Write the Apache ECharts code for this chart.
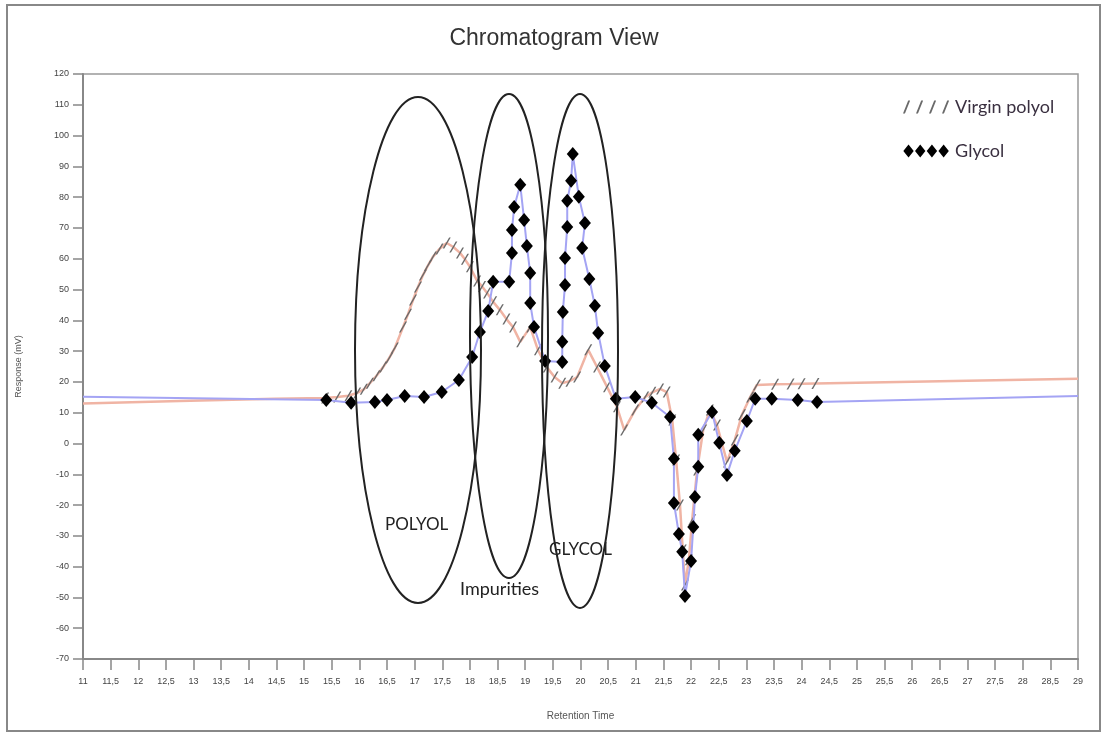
<!DOCTYPE html>
<html>
<head>
    <meta charset="UTF-8">
    <title>Chromatogram View</title>
    <script src="https://cdn.jsdelivr.net/npm/echarts@6/dist/echarts.min.js"></script>
    <style>
        html, body { margin: 0; padding: 0; background: #fff; }
    </style>
</head>
<body>
    <div id="main" style="width: 1108px;height:737px;"></div>
    <script type="text/javascript">

        // axis ranges
        var xMin = 11, xMax = 29, xStep = 0.5;
        var yMin = -70, yMax = 120, yStep = 10;

        // Virgin polyol trace: retention time / response
        var polyolTime = [11.0, 12.75, 14.47, 15.38, 15.6, 15.8, 15.96, 16.08, 16.19, 16.31,
            16.43, 16.54, 16.64, 16.79, 16.88, 16.97, 17.06, 17.15, 17.24, 17.33,
            17.45, 17.58, 17.70, 17.82, 17.91, 18.0, 18.13, 18.22, 18.31, 18.42,
            18.54, 18.66, 18.78, 18.91, 19.09, 19.23, 19.39, 19.53, 19.67, 19.80,
            19.94, 20.14, 20.30, 20.48, 20.66, 20.79, 20.99, 21.17, 21.30, 21.44,
            21.56, 21.66, 21.73, 21.80, 21.85, 21.89, 21.96, 22.02, 22.11, 22.22,
            22.34, 22.47, 22.65, 22.79, 22.92, 23.07, 23.19, 23.52, 23.80, 24.0,
            24.25, 29.0];
        var polyolResp = [13.0, 13.8, 14.5, 14.8, 15.1, 15.5, 16.4, 17.6, 19.6, 22.0,
            24.8, 27.8, 31.0, 37.8, 42.0, 46.6, 50.8, 54.7, 57.8, 60.6,
            63.2, 65.1, 63.8, 61.9, 59.8, 57.4, 52.8, 51.0, 48.9, 46.0,
            43.4, 40.4, 37.8, 33.0, 37.8, 30.4, 24.8, 21.6, 19.6, 20.2,
            21.6, 30.4, 24.8, 18.4, 11.9, 4.4, 10.9, 15.1, 16.6, 17.7,
            16.7, 7.6, -5.4, -20.0, -34.6, -46.0, -37.8, -24.8, -8.6, 4.4,
            10.9, 6.0, -6.0, 1.1, 9.3, 15.1, 19.0, 19.2, 19.3, 19.4,
            19.5, 21.0];

        // Glycol trace (diamond points)
        var glycolTime = [15.40, 15.85, 16.28, 16.50, 16.82, 17.17, 17.49, 17.80, 18.04, 18.18,
            18.33, 18.42, 18.71, 18.76, 18.76, 18.80, 18.91, 18.98, 19.03, 19.09,
            19.09, 19.16, 19.36, 19.67, 19.67, 19.68, 19.72, 19.72, 19.76, 19.76,
            19.83, 19.86, 19.97, 20.08, 20.03, 20.16, 20.26, 20.32, 20.44, 20.64,
            20.99, 21.29, 21.62, 21.69, 21.69, 21.78, 21.84, 21.89, 22.0, 22.04,
            22.07, 22.13, 22.13, 22.38, 22.51, 22.65, 22.79, 23.01, 23.16, 23.46,
            23.93, 24.28];
        var glycolResp = [14.1, 13.2, 13.5, 14.1, 15.4, 15.1, 16.7, 20.6, 28.1, 36.2,
            43.0, 52.5, 52.5, 61.9, 69.3, 76.8, 84.0, 72.6, 64.1, 55.4,
            45.6, 37.8, 26.8, 26.5, 33.0, 42.7, 51.5, 60.2, 70.3, 78.8,
            85.3, 94.0, 80.1, 71.6, 63.5, 53.4, 44.7, 35.9, 25.2, 14.5,
            15.1, 13.2, 8.6, -5.0, -19.3, -29.4, -35.2, -49.5, -38.2, -27.1,
            -17.4, -7.6, 2.8, 10.2, 0.2, -10.2, -2.4, 7.3, 14.5, 14.5,
            14.1, 13.5];
        // glycol baseline before / after the measured points
        var glycolBaseStart = [11.0, 15.2];
        var glycolBaseEnd = [29.0, 15.4];

        // hatch marks only where the polyol trace was sampled
        var hatchFrom = 15.3, hatchTo = 24.35;

        var hatchPath = 'path://M0,10L6,0L7.5,0L1.5,10Z';
        var hatchLegend = 'path://M0,10L4,0L5.5,0L1.5,10Z M10,10L14,0L15.5,0L11.5,10Z M20,10L24,0L25.5,0L21.5,10Z M30,10L34,0L35.5,0L31.5,10Z';
        var diamondLegend = 'path://M0,5L4,0L8,5L4,10Z M9,5L13,0L17,5L13,10Z M18,5L22,0L26,5L22,10Z M27,5L31,0L35,5L31,10Z';

        var polyolData = [];
        for (var i = 0; i < polyolTime.length; i++) {
            var t = polyolTime[i];
            var item = { value: [t, polyolResp[i]] };
            if (t < hatchFrom || t > hatchTo) item.symbol = 'none';
            polyolData.push(item);
        }

        var glycolData = [{ value: glycolBaseStart, symbol: 'none' }];
        for (var j = 0; j < glycolTime.length; j++) {
            glycolData.push({ value: [glycolTime[j], glycolResp[j]] });
        }
        glycolData.push({ value: glycolBaseEnd, symbol: 'none' });

        var myChart = echarts.init(document.getElementById('main'));

        var option = {
            backgroundColor: '#fff',
            animation: false,
            title: {
                text: 'Chromatogram View',
                left: 'center',
                top: 22,
                textStyle: { fontFamily: 'Liberation Sans', fontSize: 23, fontWeight: 'normal', color: '#333' }
            },
            legend: {
                orient: 'vertical',
                left: 898,
                top: 93,
                itemGap: 26,
                textStyle: { fontFamily: 'Lato', fontSize: 18, color: '#3a3040' },
                data: [
                    { name: 'Virgin polyol', icon: hatchLegend, itemStyle: { color: '#6a6a6a' } },
                    { name: 'Glycol', icon: diamondLegend, itemStyle: { color: '#000' } }
                ],
                itemWidth: 48,
                itemHeight: 13
            },
            grid: {
                left: 83, right: 30, top: 74, bottom: 78,
                show: true,
                borderColor: '#999',
                borderWidth: 1.5
            },
            xAxis: {
                type: 'value',
                min: xMin, max: xMax, interval: xStep,
                name: 'Retention Time',
                nameLocation: 'middle',
                nameGap: 52,
                nameTextStyle: { fontFamily: 'Liberation Sans', fontSize: 10, color: '#555' },
                axisLine: { onZero: false, lineStyle: { color: '#888', width: 2 } },
                axisTick: { length: 11, lineStyle: { color: '#888', width: 1.5 } },
                axisLabel: {
                    fontFamily: 'Liberation Sans', fontSize: 9, color: '#444', margin: 18,
                    formatter: function (v) { return String(v).replace('.', ','); }
                },
                splitLine: { show: false }
            },
            yAxis: {
                type: 'value',
                min: yMin, max: yMax, interval: yStep,
                name: 'Response (mV)',
                nameLocation: 'middle',
                nameGap: 60,
                nameTextStyle: { fontFamily: 'Liberation Sans', fontSize: 9, color: '#555' },
                axisLine: { show: true, onZero: false, lineStyle: { color: '#888', width: 2 } },
                axisTick: { show: true, length: 10, lineStyle: { color: '#888', width: 1.5 } },
                axisLabel: { fontFamily: 'Liberation Sans', fontSize: 9, color: '#444', margin: 14 },
                splitLine: { show: false }
            },
            series: [
                {
                    name: 'Virgin polyol',
                    type: 'line',
                    data: polyolData,
                    symbol: hatchPath,
                    symbolSize: [8, 11],
                    showAllSymbol: true,
                    lineStyle: { color: '#f0b4a4', width: 2.5 },
                    itemStyle: { color: '#6a6a6a' },
                    z: 2
                },
                {
                    name: 'Glycol',
                    type: 'line',
                    data: glycolData,
                    symbol: 'diamond',
                    symbolSize: [12, 14],
                    showAllSymbol: true,
                    lineStyle: { color: '#a4a4f4', width: 2 },
                    itemStyle: { color: '#000' },
                    z: 3
                }
            ],
            graphic: [
                { type: 'rect', shape: { x: 7, y: 5, width: 1093, height: 726 }, style: { fill: 'none', stroke: '#888', lineWidth: 2 }, z: 0, silent: true },
                { type: 'ellipse', shape: { cx: 418, cy: 350, rx: 63, ry: 253 }, style: { fill: 'none', stroke: '#222', lineWidth: 2 }, z: 10 },
                { type: 'ellipse', shape: { cx: 509, cy: 336, rx: 39, ry: 242 }, style: { fill: 'none', stroke: '#222', lineWidth: 2 }, z: 10 },
                { type: 'ellipse', shape: { cx: 580, cy: 351, rx: 38, ry: 257 }, style: { fill: 'none', stroke: '#222', lineWidth: 2 }, z: 10 },
                { type: 'text', left: 385, top: 516, style: { text: 'POLYOL', font: '17px Lato', fill: '#222' }, z: 10 },
                { type: 'text', left: 460, top: 580, style: { text: 'Impurities', font: '18px Lato', fill: '#222' }, z: 10 },
                { type: 'text', left: 549, top: 541, style: { text: 'GLYCOL', font: '17px Lato', fill: '#222' }, z: 10 }
            ]
        };

        myChart.setOption(option);
    </script>
</body>
</html>
